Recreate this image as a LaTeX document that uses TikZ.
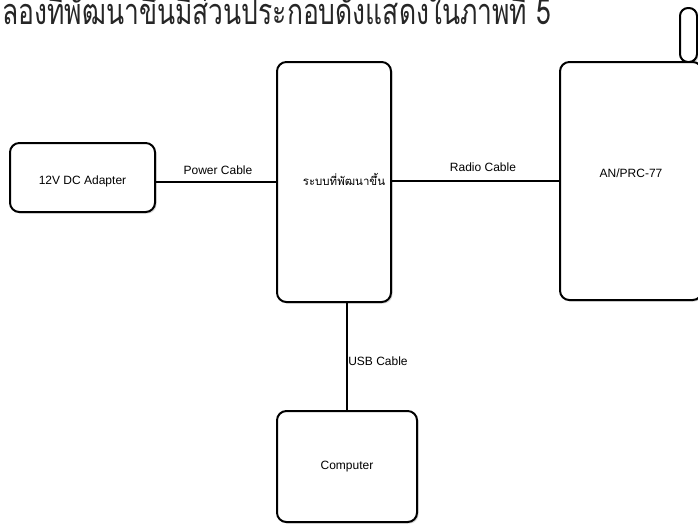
\documentclass[tikz,border=0pt]{standalone}
\usepackage{fontspec}
\setmainfont{Liberation Sans}
\newfontfamily\thaifont[Script=Thai]{Loma}
\usetikzlibrary{shadows}

\begin{document}
\begin{tikzpicture}[x=0.75pt,y=-0.75pt,
  block/.style={draw,line width=1.5pt,rounded corners=7pt,fill=white,
    drop shadow={shadow xshift=1.2pt,shadow yshift=-1.2pt,opacity=0.3}},
  cable/.style={line width=2.2pt},
  lbl/.style={font=\fontsize{9}{10}\selectfont}]
\clip (0,0) rectangle (698,525);

% heading
\node[anchor=base west,inner sep=0pt,text=black!85,font=\thaifont\fontsize{27}{30}\selectfont] (title) at (2,24) {\scalebox{0.735}[1]{ลองที่พัฒนาขึ้นมีส่วนประกอบดังแสดงในภาพที่ 5}};

% blocks
\node[block,minimum width=108.75pt,minimum height=51.75pt] (adapter) at (82.5,177.5) {};
\node[block,minimum width=85.5pt,minimum height=180pt] (main) at (334,182) {};
\node[block,minimum width=12.75pt,minimum height=40.5pt,rounded corners=6pt] (antenna) at (688.5,35) {};
\node[block,minimum width=106.5pt,minimum height=178.5pt] (radio) at (631,181) {};
\node[block,minimum width=105pt,minimum height=83.25pt,lbl] (computer) at (347,466.5) {Computer};

\node[lbl] (adaptertxt) at ([yshift=-3pt]adapter.center) {12V DC Adapter};
\node[font=\thaifont\fontsize{8.6}{10}\selectfont] (maintxt) at ([xshift=7.5pt,yshift=2pt]main.center) {ระบบที่พัฒนาขึ้น};
\node[lbl] (radiotxt) at ([yshift=6pt]radio.center) {AN/PRC-77};

% cables
\draw[cable] (adapter.east |- main.west) -- (main.west);
\draw[cable] (main.east |- radio.west) -- (radio.west);
\draw[cable] (computer.north |- main.south) -- (computer.north);

\node[lbl] (powerlbl) at (218,170) {Power Cable};
\node[lbl] (radiolbl) at (483,167) {Radio Cable};
\node[lbl] (usblbl) at (378,361) {USB Cable};
\end{tikzpicture}
\end{document}
